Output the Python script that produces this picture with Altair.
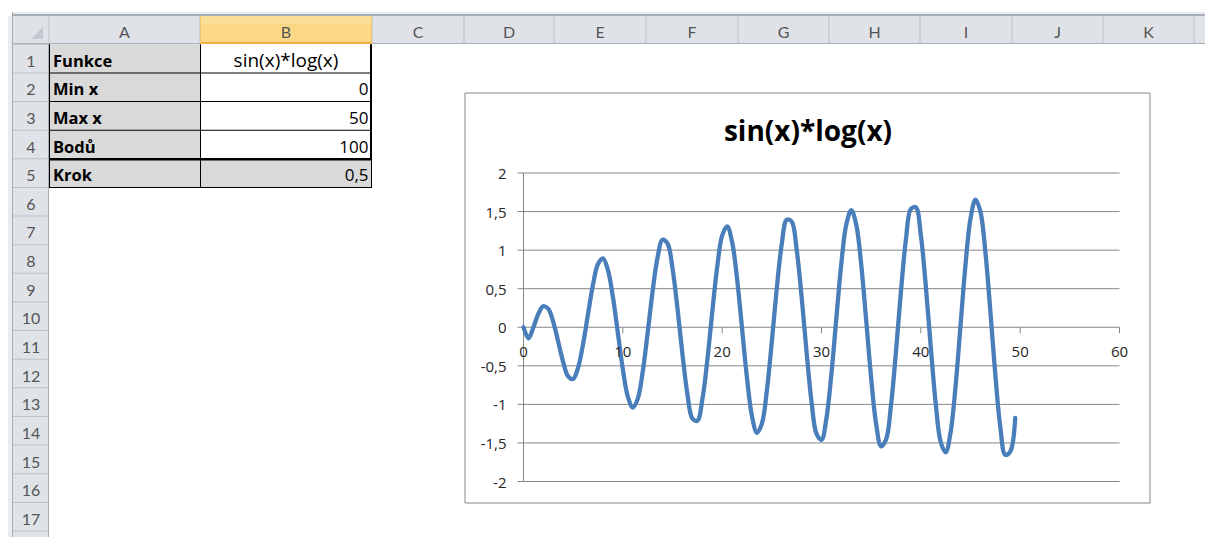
import altair as alt
import pandas as pd

# ---------------- data ----------------
X_VALUES = [0, 0.5, 1, 1.5, 2, 2.5, 3, 3.5, 4, 4.5, 5, 5.5, 6, 6.5, 7, 7.5, 8, 8.5, 9, 9.5,
            10, 10.5, 11, 11.5, 12, 12.5, 13, 13.5, 14, 14.5, 15, 15.5, 16, 16.5, 17, 17.5,
            18, 18.5, 19, 19.5, 20, 20.5, 21, 21.5, 22, 22.5, 23, 23.5, 24, 24.5, 25, 25.5,
            26, 26.5, 27, 27.5, 28, 28.5, 29, 29.5, 30, 30.5, 31, 31.5, 32, 32.5, 33, 33.5,
            34, 34.5, 35, 35.5, 36, 36.5, 37, 37.5, 38, 38.5, 39, 39.5, 40, 40.5, 41, 41.5,
            42, 42.5, 43, 43.5, 44, 44.5, 45, 45.5, 46, 46.5, 47, 47.5, 48, 48.5, 49, 49.5]
Y_VALUES = [0, -0.1443, 0, 0.1757, 0.2737, 0.2382, 0.0673, -0.1909, -0.4556, -0.6385,
            -0.6703, -0.5224, -0.2174, 0.1749, 0.5552, 0.8208, 0.8935, 0.7421, 0.3933, -0.0735,
            -0.5440, -0.8983, -1.0414, -0.9286, -0.5791, -0.0727, 0.4680, 0.9085, 1.1354, 1.0858,
            0.7648, 0.2458, -0.3467, -0.8666, -1.1830, -1.2128, -0.9427, -0.4340, 0.1917, 0.7812,
            1.1878, 1.3076, 1.1062, 0.6284, -0.0119, -0.6587, -1.1523, -1.3684, -1.2499, -0.8215,
            -0.1850, 0.5050, 1.0790, 1.3939, 1.3689, 1.0064, 0.3920, -0.3255, -0.9705, -1.3832,
            -1.4594, -1.1772, -0.6026, 0.1258, 0.8300, 1.3363, 1.5184, 1.3285, 0.8103, 0.0884,
            -0.6611, -1.2542, -1.5435, -1.4556, -1.0092, -0.3113, 0.4682, 1.1383, 1.5335, 1.5545,
            1.1937, 0.5371, -0.2558, -0.9912, -1.4877, -1.6220, -1.3587, -0.7600, 0.0291, 0.8157,
            1.4067, 1.6557, 1.4995, 0.9741, 0.2066, -0.6159, -1.2916, -1.6539, -1.6120, -1.1742]

CHART_TITLE = "sin(x)*log(x)"
Y_TICKS = [2, 1.5, 1, 0.5, 0, -0.5, -1, -1.5, -2]
Y_TICK_LABELS = ["2", "1,5", "1", "0,5", "0", "-0,5", "-1", "-1,5", "-2"]
X_TICKS = [0, 10, 20, 30, 40, 50, 60]
X_TICK_LABELS = ["0", "10", "20", "30", "40", "50", "60"]

COLUMN_LETTERS = ["A", "B", "C", "D", "E", "F", "G", "H", "I", "J", "K", "L"]
ROW_NUMBERS = [1, 2, 3, 4, 5, 6, 7, 8, 9, 10, 11, 12, 13, 14, 15, 16, 17, 18]
CELL_LABELS = ["Funkce", "Min x", "Max x", "Bodů", "Krok"]
CELL_VALUES = ["sin(x)*log(x)", "0", "50", "100", "0,5"]

# ---------------- layout (screen pixels) ----------------
M = 8
W, H = 1197, 529
HDR_FONT = "Lato"
FONT = "Open Sans"
COL_EDGES = [49, 200, 372, 464, 554, 646, 738, 829, 920, 1012, 1103, 1194, 1285]
ROW_TOP0, ROW_H = 44.3, 28.63
HDR_TOP, HDR_BOT = 16, 44
RH_LEFT, RH_RIGHT = 13, 49
SCREEN_R, SCREEN_B = 1213, 545

HDR_BG = "#dfe3e8"
HDR_SEP = "#bcc2c9"
HDR_LINE = "#a7aeb7"
HDR_TXT = "#555555"
CELL_GRAY = "#d9d9d9"
AX = "#868686"
LINE_C = "#4a7ebb"

px_x = alt.Scale(domain=[M, M + W], range=[0, W], nice=False, zero=False)
px_y = alt.Scale(domain=[M, M + H], range=[0, H], nice=False, zero=False)

xs = alt.Scale(domain=[0, 60], range=[523.5 - M, 1119.5 - M], nice=False, zero=False)
ys = alt.Scale(domain=[-2, 2], range=[481.5 - M, 173 - M], nice=False, zero=False)


def row_top(i):
    return ROW_TOP0 + ROW_H * i


def rect_layer(rows):
    df = pd.DataFrame(rows, columns=["x", "x2", "y", "y2", "fill"])
    return alt.Chart(df).mark_rect().encode(
        x=alt.X("x:Q", scale=px_x, axis=None),
        x2="x2:Q",
        y=alt.Y("y:Q", scale=px_y, axis=None),
        y2="y2:Q",
        color=alt.Color("fill:N", scale=None),
    )


def text_layer(rows, font=FONT, **kw):
    df = pd.DataFrame(rows, columns=["x", "y", "t"])
    return alt.Chart(df).mark_text(font=font, baseline="alphabetic", **kw).encode(
        x=alt.X("x:Q", scale=px_x, axis=None),
        y=alt.Y("y:Q", scale=px_y, axis=None),
        text="t:N",
    )


# ---------- spreadsheet background ----------
bg = [
    [12, SCREEN_R, 12, 14, "#e6eaef"],
    [12, SCREEN_R, 14, 16, HDR_LINE],
    [6, 12, 16, SCREEN_B, "#e9ecf0"],
    [12, 13, 12, SCREEN_B, HDR_LINE],
    [13, SCREEN_R, HDR_TOP, HDR_BOT, HDR_BG],
    [RH_LEFT, RH_RIGHT, HDR_BOT, SCREEN_B, HDR_BG],
]
for e in COL_EDGES:
    bg.append([e - 0.5, e + 0.5, HDR_TOP, HDR_BOT, HDR_SEP])
for i in range(len(ROW_NUMBERS)):
    t = row_top(i)
    bg.append([RH_LEFT, RH_RIGHT, t - 0.5, t + 0.5, HDR_SEP])
bg.append([13, SCREEN_R, HDR_BOT - 1, HDR_BOT, HDR_LINE])
bg.append([RH_RIGHT - 1, RH_RIGHT, HDR_BOT, SCREEN_B, HDR_LINE])
# selected column B header
bg.append([COL_EDGES[1], COL_EDGES[2], HDR_TOP, HDR_BOT, "#fbd884"])
bg.append([COL_EDGES[1], COL_EDGES[2], HDR_TOP, HDR_TOP + 8, "#fadf98"])
bg.append([COL_EDGES[1], COL_EDGES[2], HDR_BOT - 2, HDR_BOT, "#f2ac45"])
bg.append([COL_EDGES[1], COL_EDGES[1] + 1, HDR_TOP, HDR_BOT, "#f2c66a"])
bg.append([COL_EDGES[2] - 1, COL_EDGES[2], HDR_TOP, HDR_BOT, "#f2c66a"])

# table cells
for i in range(len(CELL_LABELS)):
    t, b = row_top(i), row_top(i + 1)
    bg.append([COL_EDGES[0], COL_EDGES[1], t, b, CELL_GRAY])
    bg.append([COL_EDGES[1], COL_EDGES[2], t, b, CELL_GRAY if i == 4 else "#ffffff"])

# table borders
nrows = len(CELL_LABELS)
tb_top, tb_bot = row_top(0), row_top(nrows)
borders = []
for i in range(1, nrows + 1):
    y = row_top(i)
    w = 1.0 if i != 4 else 1.6
    borders.append([COL_EDGES[0], COL_EDGES[2], y - w / 2, y + w / 2 + (1 if i == 4 else 0), "#000000"])
for e in (COL_EDGES[0], COL_EDGES[1]):
    borders.append([e, e + 1, tb_top, tb_bot, "#000000"])
borders.append([COL_EDGES[2] - 2, COL_EDGES[2], tb_top, row_top(4) + 1, "#000000"])
borders.append([COL_EDGES[2] - 1, COL_EDGES[2], row_top(4), tb_bot, "#000000"])

layers = [rect_layer(bg), rect_layer(borders)]

# corner triangle
tri = pd.DataFrame({"x": [37], "y": [33]})
layers.append(
    alt.Chart(tri).mark_point(shape="M1,-1L1,1L-1,1Z", filled=True, size=150,
                              color="#c3c9d0", opacity=1).encode(
        x=alt.X("x:Q", scale=px_x, axis=None), y=alt.Y("y:Q", scale=px_y, axis=None))
)

# header texts
col_txt = []
for i, letter in enumerate(COLUMN_LETTERS):
    cx = (COL_EDGES[i] + COL_EDGES[i + 1]) / 2
    if cx < M + W:
        col_txt.append([cx, 38.3, letter])
layers.append(text_layer(col_txt, font=HDR_FONT, fontSize=16, color=HDR_TXT, align="center"))

row_txt = []
for i, n in enumerate(ROW_NUMBERS):
    by = row_top(i) + 22.4
    if by < M + H + 10:
        row_txt.append([31, by, str(n)])
layers.append(text_layer(row_txt, font=HDR_FONT, fontSize=16, color=HDR_TXT, align="center"))

# cell texts
lab_txt = [[53, row_top(i) + 22.4, s] for i, s in enumerate(CELL_LABELS)]
layers.append(text_layer(lab_txt, fontSize=16.5, fontWeight="bold", color="#000000", align="left"))
val_center = [[(COL_EDGES[1] + COL_EDGES[2]) / 2, row_top(0) + 22.4, CELL_VALUES[0]]]
layers.append(text_layer(val_center, fontSize=19, color="#000000", align="center"))
val_right = [[368.5, row_top(i) + 22.4, s] for i, s in enumerate(CELL_VALUES) if i > 0]
layers.append(text_layer(val_right, fontSize=17, color="#000000", align="right"))

# ---------- chart ----------
box = pd.DataFrame({"x": [465], "x2": [1150], "y": [93], "y2": [503]})
layers.append(
    alt.Chart(box).mark_rect(fill="#ffffff", stroke=AX, strokeWidth=1).encode(
        x=alt.X("x:Q", scale=px_x, axis=None), x2="x2:Q",
        y=alt.Y("y:Q", scale=px_y, axis=None), y2="y2:Q")
)

grid_df = pd.DataFrame({"y": Y_TICKS, "x0": X_TICKS[0], "x1": X_TICKS[-1]})
layers.append(
    alt.Chart(grid_df).mark_rule(color=AX, strokeWidth=1).encode(
        x=alt.X("x0:Q", scale=xs, axis=None), x2="x1:Q",
        y=alt.Y("y:Q", scale=ys, axis=None))
)
yaxis_df = pd.DataFrame({"x": [0], "y0": [Y_TICKS[-1]], "y1": [Y_TICKS[0]]})
layers.append(
    alt.Chart(yaxis_df).mark_rule(color=AX, strokeWidth=1).encode(
        x=alt.X("x:Q", scale=xs, axis=None),
        y=alt.Y("y0:Q", scale=ys, axis=None), y2="y1:Q")
)
ytick_df = pd.DataFrame({"y": Y_TICKS, "x": 0})
layers.append(
    alt.Chart(ytick_df).mark_rule(color=AX, strokeWidth=1, x2Offset=-6).encode(
        x=alt.X("x:Q", scale=xs, axis=None), x2="x:Q",
        y=alt.Y("y:Q", scale=ys, axis=None))
)
xtick_df = pd.DataFrame({"x": X_TICKS, "y": 0})
layers.append(
    alt.Chart(xtick_df).mark_rule(color=AX, strokeWidth=1, y2Offset=6).encode(
        x=alt.X("x:Q", scale=xs, axis=None),
        y=alt.Y("y:Q", scale=ys, axis=None), y2="y:Q")
)

series = pd.DataFrame({"x": X_VALUES, "y": Y_VALUES})
layers.append(
    alt.Chart(series).mark_line(color=LINE_C, strokeWidth=4.3, interpolate="catmull-rom",
                                strokeCap="round", strokeJoin="round").encode(
        x=alt.X("x:Q", scale=xs, axis=None),
        y=alt.Y("y:Q", scale=ys, axis=None))
)

ylab_df = pd.DataFrame({"y": Y_TICKS, "x": 0, "t": Y_TICK_LABELS})
layers.append(
    alt.Chart(ylab_df).mark_text(font=FONT, fontSize=15, color="#262626", align="right",
                                 baseline="middle", dx=-17, dy=1).encode(
        x=alt.X("x:Q", scale=xs, axis=None),
        y=alt.Y("y:Q", scale=ys, axis=None), text="t:N")
)
xlab_df = pd.DataFrame({"x": X_TICKS, "y": 0, "t": X_TICK_LABELS})
layers.append(
    alt.Chart(xlab_df).mark_text(font=FONT, fontSize=15, color="#262626", align="center",
                                 baseline="middle", dy=25).encode(
        x=alt.X("x:Q", scale=xs, axis=None),
        y=alt.Y("y:Q", scale=ys, axis=None), text="t:N")
)

layers.append(text_layer([[808, 141, CHART_TITLE]], fontSize=28, fontWeight="bold",
                         color="#000000", align="center"))

chart = alt.layer(*layers).resolve_scale(
    x="independent", y="independent", color="independent"
).properties(
    width=W, height=H, padding=0, autosize="none"
).configure_view(stroke=None)

chart.save("out.html", embed_options={"renderer": "svg", "actions": False})
